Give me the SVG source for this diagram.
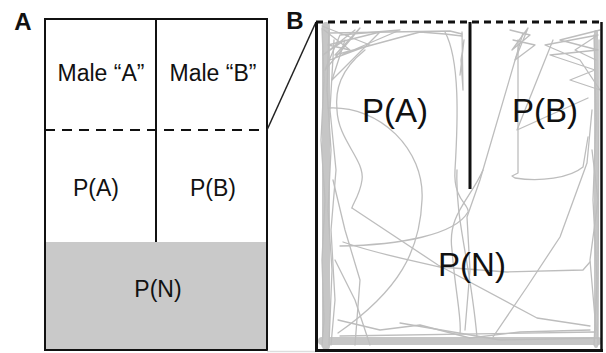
<svg xmlns="http://www.w3.org/2000/svg" width="606" height="353" viewBox="0 0 606 353">
<style>
.lbl{font-family:"Liberation Sans",Arial,sans-serif;fill:#111;text-anchor:middle}
.pl{font-family:"Liberation Sans",Arial,sans-serif;font-weight:bold;fill:#111;text-anchor:middle;font-size:24px}
.a{font-size:23px}
.b{font-size:33px}
.ln{stroke:#111;fill:none}
.trk{stroke:#bdbdbd;fill:none;stroke-width:1.3;stroke-linejoin:round;stroke-linecap:round}
.wall{stroke:#c6c6c6;fill:none;stroke-linecap:round}
</style>
<rect width="606" height="353" fill="#fff"/>

<g id="panel-letters">
<text class="pl" x="23" y="30">A</text>
<text class="pl" x="295" y="29">B</text>
</g>

<g id="panelA">
<g id="regionPN">
<rect x="45" y="242" width="222" height="108" fill="#c9c9c9"/>
<text class="lbl a" x="158" y="297">P(N)</text>
</g>
<g id="regionMaleA"><text class="lbl a" x="101" y="81">Male “A”</text></g>
<g id="regionMaleB"><text class="lbl a" x="213" y="81">Male “B”</text></g>
<g id="regionPA"><text class="lbl a" x="96" y="196">P(A)</text></g>
<g id="regionPB"><text class="lbl a" x="213" y="196">P(B)</text></g>
<g id="frameA">
<rect class="ln" x="45" y="19" width="222" height="331" stroke-width="2"/>
<line class="ln" x1="156" y1="19" x2="156" y2="242" stroke-width="2"/>
<line class="ln" x1="45" y1="130" x2="267" y2="130" stroke-width="2" stroke-dasharray="10 7"/>
</g>
</g>

<g id="connectors">
<line x1="267" y1="130" x2="316" y2="22" stroke="#222" stroke-width="1.5"/>
<line x1="267" y1="351.5" x2="316" y2="351.5" stroke="#ddd" stroke-width="1.5"/>
</g>

<g id="panelB">
<g id="tracks">
<path class="wall" stroke-width="8" d="M326,26 L326,346"/>
<path class="wall" stroke-width="8" d="M322,341 L598,341"/>
<path class="wall" stroke-width="4" d="M596,32 L596,346"/>
<path class="trk" d="M322,28 L324,80 L321,140 L325,200 L322,260 L324,320 L322,346"/>
<path class="trk" d="M329,30 L327,90 L331,150 L328,210 L332,270 L329,345"/>
<path class="trk" d="M334,40 L330,110 L336,170 L331,230 L335,300 L331,345"/>
<path class="trk" d="M322,26 L370,45 L330,60 L400,30 L340,35 L325,70 L360,28 L335,55 L420,32 L445,34 L462,36"/>
<path class="trk" d="M324,30 L350,50 L328,45 L380,32 L332,80 L345,40 L323,55 L355,30"/>
<path class="trk" d="M462,32 L463,90 L461,60 L464,40 L460,75"/>
<path class="trk" d="M330,33 L450,31 L462,34"/>
<path class="trk" d="M445,32 C460,60 458,120 455,170 C453,200 470,205 468,212 C455,235 400,245 340,246"/>
<path class="trk" d="M328,108 C380,105 425,150 422,200 C420,250 400,290 338,333"/>
<path class="trk" d="M365,50 C340,70 335,90 337,110 C338,140 365,160 362,180 C360,195 352,205 352,208"/>
<path class="trk" d="M352,208 L438,265 L537,318 L590,326"/>
<path class="trk" d="M343,242 C380,255 420,262 440,267 L507,272 L583,270 L590,262"/>
<path class="trk" d="M457,170 C455,220 470,260 477,337"/>
<path class="trk" d="M483,170 C470,200 447,215 452,250 C455,290 462,320 460,333"/>
<path class="trk" d="M523,33 L480,180 L467,217 L470,270 L465,330"/>
<path class="trk" d="M518,40 L518,173 L512,176 L515,178 C540,182 570,178 583,167 L588,137"/>
<path class="trk" d="M553,40 L517,130 L588,98"/>
<path class="trk" d="M592,110 L587,163 L560,237 L527,287 L493,337"/>
<path class="trk" d="M600,30 L560,40 L598,50 L550,55 L595,70 L570,80 L600,90 L580,60 L545,45 L598,35 L575,50 L596,60"/>
<path class="trk" d="M510,30 L530,35 L512,50 L528,28 L515,60 L535,45 L513,40"/>
<path class="trk" d="M338,320 L380,330 L420,325 L470,338 L520,332 L590,330"/>
<path class="trk" d="M400,323 L500,340 L598,338"/>
<path class="trk" d="M340,336 L595,332"/>
<path class="trk" d="M335,260 L355,300 L370,345"/>
<path class="trk" d="M333,180 L345,230 L360,280 L355,345"/>
<path class="trk" d="M594,35 L596,120 L593,200 L597,280 L594,345"/>
<path class="trk" d="M599,40 L598,345"/>
<path class="trk" d="M592,150 L598,200 L590,260 L596,330"/>
</g>
<g id="labelsB">
<text class="lbl b" x="395" y="122">P(A)</text>
<text class="lbl b" x="545" y="122">P(B)</text>
<text class="lbl b" x="472" y="276">P(N)</text>
</g>
<g id="frameB">
<line class="ln" x1="316.5" y1="22" x2="316.5" y2="351.5" stroke-width="3"/>
<line class="ln" x1="315" y1="350.5" x2="603" y2="350.5" stroke-width="3"/>
<line class="ln" x1="601.5" y1="22" x2="601.5" y2="351" stroke-width="2.5"/>
<line class="ln" x1="316" y1="22" x2="603" y2="22" stroke-width="3" stroke-dasharray="7 5"/>
<line class="ln" x1="470" y1="22" x2="470" y2="189" stroke-width="3"/>
</g>
</g>
</svg>
